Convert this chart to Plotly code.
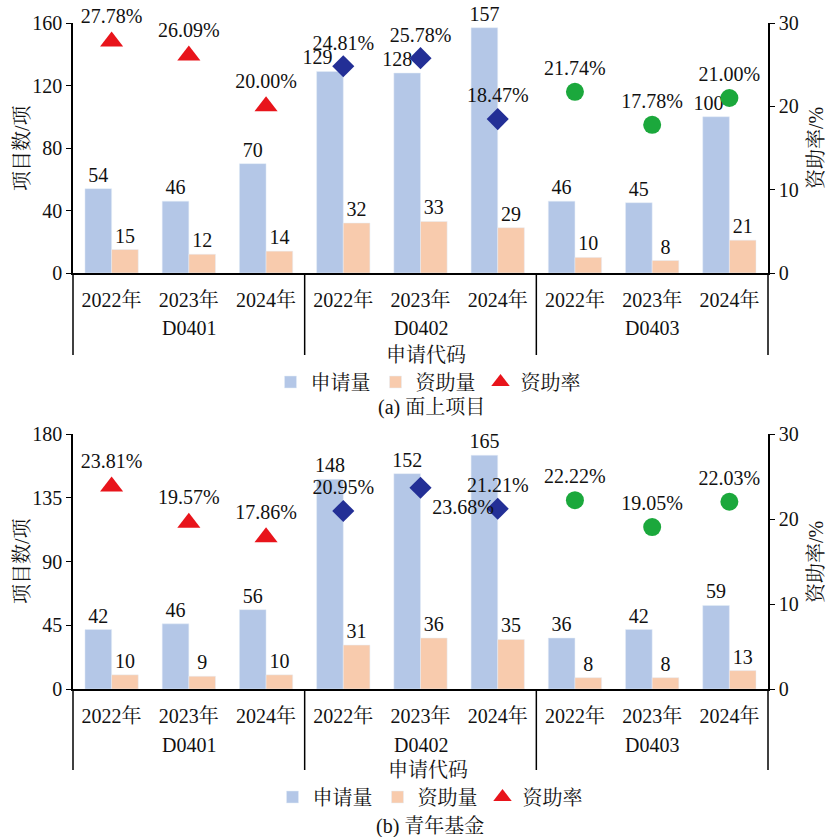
import plotly.graph_objects as go
from plotly.subplots import make_subplots

groups = ["D0401", "D0402", "D0403"]
years = ["2022年", "2023年", "2024年"]

# (a) 面上项目
a_apply = [54, 46, 70, 129, 128, 157, 46, 45, 100]
a_fund = [15, 12, 14, 32, 33, 29, 10, 8, 21]
a_rate = [27.78, 26.09, 20.00, 24.81, 25.78, 18.47, 21.74, 17.78, 21.00]

# (b) 青年基金
b_apply = [42, 46, 56, 148, 152, 165, 36, 42, 59]
b_fund = [10, 9, 10, 31, 36, 35, 8, 8, 13]
b_rate = [23.81, 19.57, 17.86, 20.95, 23.68, 21.21, 22.22, 19.05, 22.03]

ids = [f"{g}|{y}" for g in groups for y in years]
year_text = [y for _ in groups for y in years]
group_mid = [f"{g}|{years[1]}" for g in groups]

C_APPLY = "#B4C7E7"
C_FUND = "#F8CBAD"
sym = ["triangle-up"] * 3 + ["diamond"] * 3 + ["circle"] * 3
col = ["#E8141B"] * 3 + ["#232F96"] * 3 + ["#1BA83C"] * 3
msize = [20] * 3 + [17] * 3 + [18] * 3

FONT = "Liberation Serif, Noto Serif CJK SC, Noto Sans CJK SC"
FS = 20
W, H = 829.0, 837.0
NB = "\u00a0"

def fx(p):
    return p / W
def fy(p):
    return 1 - p / H

fig = make_subplots(rows=2, cols=1, specs=[[{"secondary_y": True}], [{"secondary_y": True}]])

def add_panel(row, apply, fund, rate, legend, tpos, pad):
    lab = [str(v) + NB * pad.get(i, 0) for i, v in enumerate(apply)]
    fig.add_trace(go.Bar(x=ids, y=apply, name="申请量", marker_color=C_APPLY,
                         text=lab, textposition="outside", cliponaxis=False,
                         constraintext="none",
                         textfont=dict(size=FS, color="#111"), legend=legend),
                  row=row, col=1, secondary_y=False)
    fig.add_trace(go.Bar(x=ids, y=fund, name="资助量", marker_color=C_FUND,
                         text=fund, textposition="outside", cliponaxis=False,
                         constraintext="none",
                         textfont=dict(size=FS, color="#111"), legend=legend),
                  row=row, col=1, secondary_y=False)
    fig.add_trace(go.Scatter(x=ids, y=rate, name="资助率", mode="markers+text",
                             marker=dict(symbol=sym, color=col, size=msize, opacity=1,
                                         line=dict(width=0)),
                             text=[f"{v:.2f}%" for v in rate], textposition=tpos,
                             textfont=dict(size=FS, color="#111"), cliponaxis=False,
                             legend=legend),
                  row=row, col=1, secondary_y=True)

add_panel(1, a_apply, a_fund, a_rate, "legend", ["top center"] * 9, {3: 5, 4: 4, 8: 3})
add_panel(2, b_apply, b_fund, b_rate, "legend2",
          ["top center"] * 3 + ["top center", "bottom right", "top center"] + ["top center"] * 3,
          {})

xdom = [fx(73), fx(768)]
top_dom = [fy(273), fy(23)]
bot_dom = [fy(689), fy(434)]

xa = dict(type="category", showline=True, linecolor="black", linewidth=1.5,
          ticks="", ticklabelstandoff=8, tickvals=ids, ticktext=year_text,
          tickfont=dict(size=FS, family=FONT, color="#111"), showgrid=False,
          automargin=False, domain=xdom, range=[-0.5, 8.5])
ya = dict(showline=True, linecolor="black", linewidth=1.5, ticks="outside", ticklen=5,
          tickcolor="black", tickfont=dict(size=FS, family=FONT, color="#111"),
          showgrid=False, zeroline=False, automargin=False)

fig.update_layout(
    width=829, height=837,
    margin=dict(l=0, r=0, t=0, b=0, autoexpand=False),
    paper_bgcolor="white", plot_bgcolor="white",
    font=dict(family=FONT, size=FS, color="#111"),
    barmode="group", bargap=0.31, bargroupgap=0,
    xaxis=dict(**xa), xaxis2=dict(**xa),
    yaxis=dict(**ya, domain=top_dom, range=[0, 160], dtick=40),
    yaxis2=dict(**ya, range=[0, 30], dtick=10),
    yaxis3=dict(**ya, domain=bot_dom, range=[0, 180], dtick=45),
    yaxis4=dict(**ya, range=[0, 30], dtick=10),
    legend=dict(orientation="h", x=fx(428), xanchor="center", y=fy(382), yanchor="middle",
                font=dict(size=FS), itemwidth=30, tracegroupgap=0, bgcolor="rgba(0,0,0,0)"),
    legend2=dict(orientation="h", x=fx(430), xanchor="center", y=fy(797), yanchor="middle",
                 font=dict(size=FS), itemwidth=30, tracegroupgap=0, bgcolor="rgba(0,0,0,0)"),
    showlegend=True,
)

# group dividers and group labels below the year labels
for xr, yb, yt, yg in [("x", 355, 273, 328), ("x2", 770, 689, 745)]:
    for f in [0, 1 / 3, 2 / 3, 1]:
        fig.add_shape(type="line", xref=f"{xr} domain", yref="paper", x0=f, x1=f,
                      y0=fy(yb), y1=fy(yt), line=dict(color="black", width=1.5))
    for g, m in zip(groups, group_mid):
        fig.add_annotation(xref=xr, yref="paper", x=m, y=fy(yg), text=g, showarrow=False,
                           xanchor="center", yanchor="middle",
                           font=dict(size=FS, family=FONT, color="#111"))

ann = [
    dict(text="申请代码", x=fx(426), y=fy(355)),
    dict(text="(a) 面上项目", x=fx(431), y=fy(408)),
    dict(text="申请代码", x=fx(428), y=fy(770)),
    dict(text="(b) 青年基金", x=fx(430), y=fy(826)),
    dict(text="项目数/项", x=fx(22), y=fy(148), textangle=-90),
    dict(text="资助率/%", x=fx(816), y=fy(148), textangle=-90),
    dict(text="项目数/项", x=fx(22), y=fy(561), textangle=-90),
    dict(text="资助率/%", x=fx(816), y=fy(562), textangle=-90),
]
for a in ann:
    fig.add_annotation(xref="paper", yref="paper", showarrow=False, xanchor="center",
                       yanchor="middle", font=dict(size=FS, family=FONT, color="#111"), **a)

fig.write_html("out.html", config={"displayModeBar": False},
               post_script="document.body.style.margin='0';document.body.style.padding='0';document.body.style.overflow='hidden';")
